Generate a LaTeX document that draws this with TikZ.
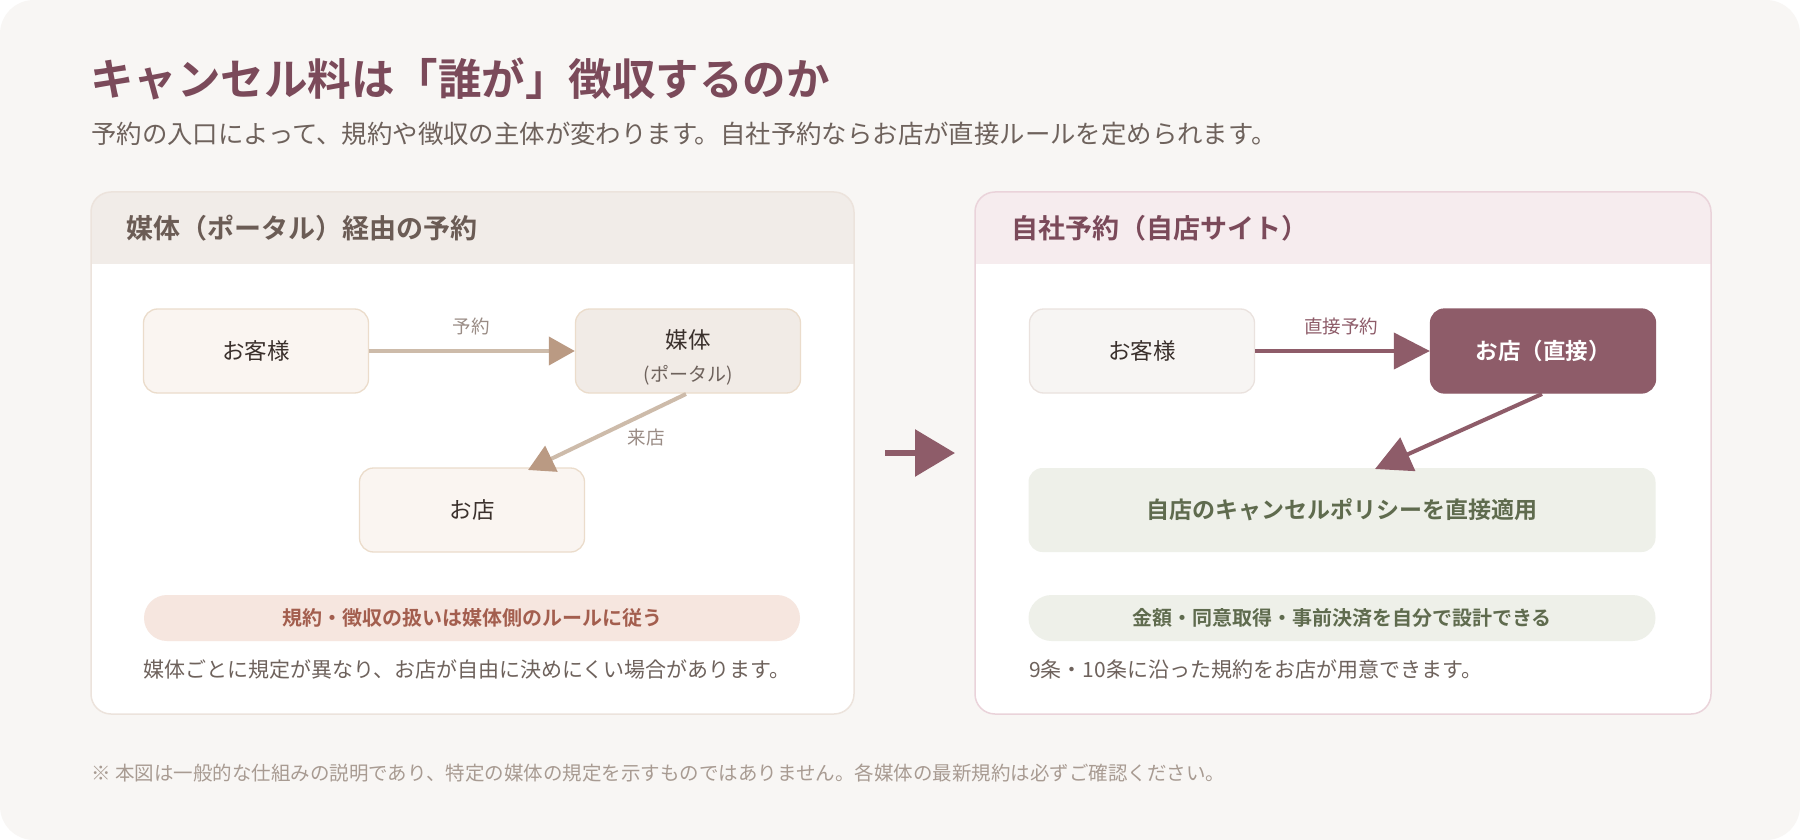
\documentclass[tikz,border=0pt]{standalone}
\usepackage{fontspec}
\setmainfont{Noto Sans CJK JP}[BoldFont={Noto Sans CJK JP Bold}]
\usetikzlibrary{arrows.meta}
\definecolor{bgc}{HTML}{F8F6F4}
\definecolor{titlec}{HTML}{7B4A5A}
\definecolor{subc}{HTML}{6E625C}
\definecolor{darkc}{HTML}{3A302C}
\definecolor{borderL}{HTML}{ECE3DC}
\definecolor{headL}{HTML}{F1ECE8}
\definecolor{headLtext}{HTML}{6B5C55}
\definecolor{borderR}{HTML}{EAD3DA}
\definecolor{headR}{HTML}{F6ECEE}
\definecolor{mauve}{HTML}{8E5C69}
\definecolor{nodeLfill}{HTML}{FAF5F1}
\definecolor{nodeLborder}{HTML}{EBDCCB}
\definecolor{mediafill}{HTML}{F1EBE6}
\definecolor{arrL}{HTML}{CDBBAA}
\definecolor{arrLhead}{HTML}{BA9A83}
\definecolor{labelc}{HTML}{9A8C85}
\definecolor{pillL}{HTML}{F6E6DF}
\definecolor{pillLtext}{HTML}{A35E4E}
\definecolor{greenfill}{HTML}{EEF0E9}
\definecolor{greentext}{HTML}{5F6B4E}
\definecolor{nodeRfill}{HTML}{F7F5F3}
\definecolor{nodeRborder}{HTML}{EAE2DE}
\definecolor{footc}{HTML}{A89B92}
\newcommand\fsz[1]{\fontsize{#1pt}{#1pt}\selectfont}
\tikzset{
  card/.style={draw, line width=1.5pt, fill=white, rounded corners=20pt, minimum height=522pt, inner sep=0pt},
  boxnode/.style={rounded corners=14pt, line width=1.3pt, minimum width=225pt, minimum height=84pt, inner sep=0pt, align=center, text=darkc, font=\fsz{22.5}},
  pillnode/.style={rounded corners=23pt, minimum width=656pt, minimum height=46pt, inner sep=0pt, font=\fsz{20}\bfseries},
  lbl/.style={inner sep=0pt, font=\fsz{18.5}},
  plain/.style={inner sep=0pt, anchor=west},
  arrowL/.style={draw=arrL, line width=4pt, -{Triangle[length=26pt,width=28pt,color=arrLhead]}},
  arrowR/.style={draw=mauve, line width=4pt, -{Triangle[length=36pt,width=36pt]}},
}
\begin{document}
\begin{tikzpicture}[x=1pt,y=-1pt]
\useasboundingbox (0,0) rectangle (1800,840);
\fill[white] (0,0) rectangle (1800,840);
\fill[bgc, rounded corners=34pt] (0,0) rectangle (1800,840);

% title & subtitle
\node[plain, font=\fsz{43.5}\bfseries, text=titlec] (title) at (90,79) {キャンセル料は「誰が」徴収するのか};
\node[plain, font=\fsz{25.4}, text=subc] (sub) at (91,134) {予約の入口によって、規約や徴収の主体が変わります。自社予約ならお店が直接ルールを定められます。};

% left card
\node[card, draw=borderL, minimum width=763pt,
  path picture={\fill[headL, sharp corners] (path picture bounding box.north west) rectangle ([yshift=-72pt]path picture bounding box.north east);}]
  (cardL) at (472.5,453) {};
\node[plain, font=\fsz{27}\bfseries, text=headLtext] (headLt) at (126,228) {媒体（ポータル）経由の予約};

\node[boxnode, draw=nodeLborder, fill=nodeLfill] (custL) at (256,351) {お客様};
\node[boxnode, draw=nodeLborder, fill=mediafill] (media) at (688,351) {\rule{0pt}{32pt}媒体\\[10pt]{\fsz{19}\color{subc}(ポータル)}};
\node[boxnode, draw=nodeLborder, fill=nodeLfill] (shopL) at (472,510) {お店};

\draw[arrowL] (custL.east) -- (media.west);
\node[lbl, text=labelc] (lblyoyaku) at (471,326) {予約};
\coordinate (mediaout) at (686,394);
\coordinate (shopin) at (528,470);
\draw[arrowL] (mediaout) -- (shopin);
\node[lbl, text=labelc] (lblraiten) at (646,437) {来店};

\node[pillnode, fill=pillL, text=pillLtext] (pillL) at (472,618) {規約・徴収の扱いは媒体側のルールに従う};
\node[plain, font=\fsz{21}, text=subc] (noteL) at (143,670) {媒体ごとに規定が異なり、お店が自由に決めにくい場合があります。};

% middle arrow
\coordinate (midA) at (885,453);
\coordinate (midB) at (955,453);
\draw[mauve, line width=6pt, -{Triangle[length=40pt,width=46pt]}] (midA) -- (midB);

% right card
\node[card, draw=borderR, minimum width=736pt,
  path picture={\fill[headR, sharp corners] (path picture bounding box.north west) rectangle ([yshift=-72pt]path picture bounding box.north east);}]
  (cardR) at (1343,453) {};
\node[plain, font=\fsz{27}\bfseries, text=titlec] (headRt) at (1011,228) {自社予約（自店サイト）};

\node[boxnode, draw=nodeRborder, fill=nodeRfill] (custR) at (1142,351) {お客様};
\node[boxnode, draw=mauve, fill=mauve, text=white, font=\fsz{22.5}\bfseries] (shopR) at (1543,351) {お店（直接）};
\draw[arrowR] (custR.east) -- (shopR.west);
\node[lbl, text=mauve] (lblchoku) at (1341,326) {直接予約};

\node[boxnode, fill=greenfill, text=greentext, font=\fsz{23}\bfseries, minimum width=627pt] (policy) at (1342,510) {自店のキャンセルポリシーを直接適用};
\coordinate (shopRout) at (1542,394);
\coordinate (policyin) at (1375,469);
\draw[arrowR] (shopRout) -- (policyin);

\node[pillnode, fill=greenfill, text=greentext, minimum width=627pt] (pillR) at (1342,618) {金額・同意取得・事前決済を自分で設計できる};
\node[plain, font=\fsz{21}, text=subc] (noteR) at (1029,670) {9条・10条に沿った規約をお店が用意できます。};

% footnote
\node[plain, font=\fsz{19.5}, text=footc] (foot) at (91,773) {※ 本図は一般的な仕組みの説明であり、特定の媒体の規定を示すものではありません。各媒体の最新規約は必ずご確認ください。};
\end{tikzpicture}
\end{document}
